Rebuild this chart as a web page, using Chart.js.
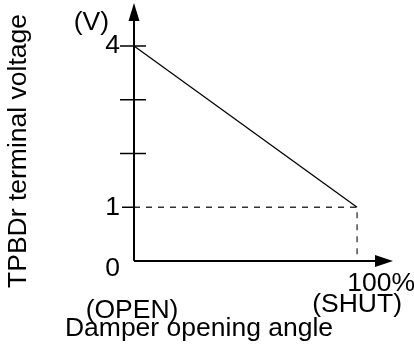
<!DOCTYPE html>
<html lang="en">
<head>
    <meta charset="UTF-8">
    <title>TPBDr terminal voltage</title>
    <script src="https://cdn.jsdelivr.net/npm/chart.js@4.4.0/dist/chart.umd.js"></script>
    <style>
        body { margin: 0; background: #fff; }
        .chart-container { width: 414px; height: 346px; position: relative; }
    </style>
</head>
<body>
    <div class="chart-container">
        <canvas id="voltChart"></canvas>
    </div>

    <script>
        // data
        const openingAngle = [0, 100];          // %
        const terminalVoltage = [4, 1];          // V
        const refX = [0, 100, 100];
        const refY = [1, 1, 0];
        const yTickValues = [1, 2, 3, 4];
        const yTickLabels = { 0: '0', 1: '1', 4: '4' };
        const xEndLabel = '100%';
        const xLeftNote = '(OPEN)';
        const xRightNote = '(SHUT)';
        const xTitle = 'Damper opening angle';
        const yTitle = 'TPBDr terminal voltage';
        const yUnit = '(V)';

        const FONT = '26.5px "Liberation Sans", Arial, sans-serif';

        const axesPlugin = {
            id: 'axesPlugin',
            afterDatasetsDraw(chart) {
                const ctx = chart.ctx;
                const xs = chart.scales.x, ys = chart.scales.y;
                const area = chart.chartArea;
                const x0 = xs.getPixelForValue(0);
                const y0 = ys.getPixelForValue(0);
                ctx.save();
                ctx.strokeStyle = '#000';
                ctx.fillStyle = '#000';
                ctx.lineWidth = 2;

                // axis lines
                ctx.beginPath();
                ctx.moveTo(x0, y0);
                ctx.lineTo(x0, area.top + 14);
                ctx.moveTo(x0, y0);
                ctx.lineTo(area.right - 14, y0);
                ctx.stroke();

                // arrow heads
                ctx.beginPath();
                ctx.moveTo(x0, area.top);
                ctx.lineTo(x0 - 5.5, area.top + 18);
                ctx.lineTo(x0 + 5.5, area.top + 18);
                ctx.closePath();
                ctx.fill();
                ctx.beginPath();
                ctx.moveTo(area.right, y0);
                ctx.lineTo(area.right - 18, y0 - 6);
                ctx.lineTo(area.right - 18, y0 + 6);
                ctx.closePath();
                ctx.fill();

                // y tick marks
                ctx.lineWidth = 1.5;
                yTickValues.forEach(v => {
                    const py = ys.getPixelForValue(v);
                    ctx.beginPath();
                    if (v === 1) {
                        ctx.moveTo(x0 - 12, py);
                        ctx.lineTo(x0, py);
                    } else {
                        ctx.moveTo(x0 - 14, py);
                        ctx.lineTo(x0 + 12, py);
                    }
                    ctx.stroke();
                });

                // texts
                ctx.font = FONT;
                ctx.textBaseline = 'middle';
                ctx.textAlign = 'right';
                Object.keys(yTickLabels).forEach(k => {
                    const v = Number(k);
                    let py = ys.getPixelForValue(v);
                    if (v === 0) py += 8;
                    ctx.fillText(yTickLabels[k], x0 - 14, py);
                });
                ctx.fillText(yUnit, x0 - 25, area.top + 20);

                const x100 = xs.getPixelForValue(100);
                ctx.textAlign = 'center';
                ctx.fillText(xEndLabel, x100 + 24, y0 + 23);
                ctx.fillText(xRightNote, x100, y0 + 44);
                ctx.fillText(xLeftNote, x0 - 2, y0 + 50);
                ctx.fillText(xTitle, 199, y0 + 68);

                ctx.translate(19, 151);
                ctx.rotate(-Math.PI / 2);
                ctx.fillText(yTitle, 0, 0);
                ctx.restore();
            }
        };

        const ctx = document.getElementById('voltChart').getContext('2d');
        new Chart(ctx, {
            type: 'scatter',
            data: {
                datasets: [{
                    data: openingAngle.map((a, i) => ({ x: a, y: terminalVoltage[i] })),
                    showLine: true,
                    borderColor: '#000',
                    borderWidth: 1.3,
                    pointRadius: 0
                }, {
                    data: refX.map((a, i) => ({ x: a, y: refY[i] })),
                    showLine: true,
                    borderColor: '#333',
                    borderWidth: 1.3,
                    borderDash: [6, 6],
                    pointRadius: 0
                }]
            },
            options: {
                responsive: true,
                maintainAspectRatio: false,
                animation: false,
                layout: { padding: { left: 134, right: 21, top: 3, bottom: 85 } },
                plugins: { legend: { display: false }, tooltip: { enabled: false } },
                scales: {
                    x: { type: 'linear', min: 0, max: 116.1, display: false },
                    y: { type: 'linear', min: 0, max: 4.8, display: false }
                }
            },
            plugins: [axesPlugin]
        });
    </script>
</body>
</html>
